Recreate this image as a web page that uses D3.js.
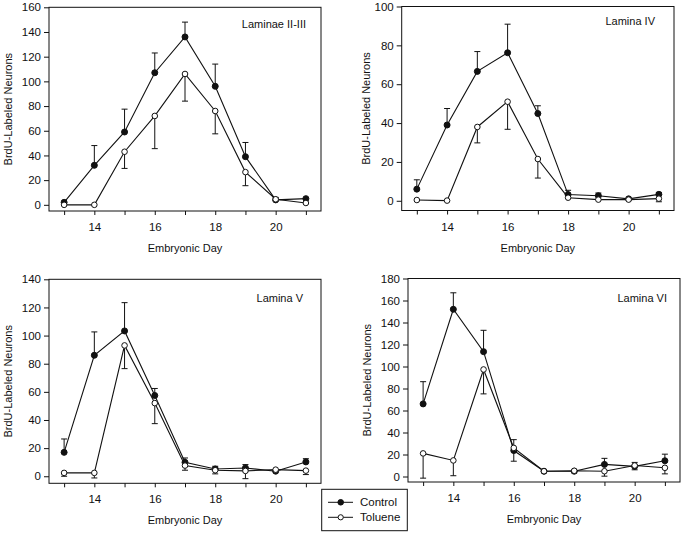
<!DOCTYPE html>
<html><head><meta charset="utf-8">
<script src="https://cdn.jsdelivr.net/npm/d3@7"></script>
<style>
body{margin:0;background:#fff;}
svg{display:block;}
text{font-family:"Liberation Sans",Arial,Helvetica,sans-serif;fill:#111;}
</style></head><body>
<svg id="chart" width="685" height="533"></svg>
<script>
// ---------- data ----------
const days = [13,14,15,16,17,18,19,20,21];
const xLabelDays = [14,16,18,20];
const panelTitles = ["Laminae II-III","Lamina IV","Lamina V","Lamina VI"];
const yMaxes = [160,100,140,180];
const seriesNames = ["Control","Toluene"];
const xTitle = "Embryonic Day";
const yTitle = "BrdU-Labeled Neurons";

// signed error: + drawn upward, - drawn downward
const l23Control    = [2, 32, 59, 107, 136, 96, 39, 4, 5];
const l23ControlErr = [0, 16, 18.5, 16, 12, 18, 11.5, 2, 0];
const l23Toluene    = [0, 0, 43, 72, 106, 76, 26.5, 4.5, 1.5];
const l23TolueneErr = [0, 0, -13.5, -26.5, -22, -18.5, -11, 0, 0];

const l4Control     = [6, 39, 66.6, 76.2, 44.9, 3.2, 2.6, 1, 3.3];
const l4ControlErr  = [4.8, 8.5, 10.2, 14.7, 4, 2.2, 1.4, 0, 1];
const l4Toluene     = [0.4, 0.1, 38, 51, 21.5, 1.6, 0.6, 0.6, 1.1];
const l4TolueneErr  = [0, 0, -8.2, -14.2, -9.8, 0, 0, 0, -1.6];

const l5Control     = [17, 86, 103.3, 57.4, 9.9, 5.2, 5.9, 3.6, 10.2];
const l5ControlErr  = [9.5, 16.6, 20.1, 5, 3.1, 1.9, 2.4, 0, 2.3];
const l5Toluene     = [2.4, 2.4, 93, 52, 7.6, 4.3, 3.8, 4.7, 4];
const l5TolueneErr  = [-2.4, -3.6, -16.5, -14.6, -3.3, -2.6, -5.5, 0, -2.8];

const l6Control     = [66, 152, 113.5, 23.6, 4.8, 4.8, 11, 9.2, 14.3];
const l6ControlErr  = [20.2, 15, 19.4, -9.7, 0, 0, 5.5, -3.1, 6];
const l6Toluene     = [21, 14.6, 97.3, 26, 4.8, 5.2, 4.8, 10, 7.9];
const l6TolueneErr  = [-22.5, -13.9, -22.2, 7.5, 0, -1.8, -4.5, 2.8, -5.5];

const controlSets = [[l23Control,l23ControlErr],[l4Control,l4ControlErr],[l5Control,l5ControlErr],[l6Control,l6ControlErr]];
const tolueneSets = [[l23Toluene,l23TolueneErr],[l4Toluene,l4TolueneErr],[l5Toluene,l5TolueneErr],[l6Toluene,l6TolueneErr]];

// ---------- layout ----------
const layout = [
  {x0:49,   x1:321, y0:7.3,   y1:211,   lx:15, ly:21, yt:41},
  {x0:401.7,x1:674, y0:6.5,   y1:210.5, lx:19, ly:18, yt:36},
  {x0:49,   x1:321, y0:279.3, y1:483.3, lx:18, ly:23, yt:41},
  {x0:408,  x1:680, y0:278.5, y1:482,   lx:13, ly:23, yt:41}
];
const ink = "#111";
const svg = d3.select("#chart");

layout.forEach((L, i) => {
  const x = d3.scaleLinear().domain([12.5, 21.5]).range([L.x0, L.x1]);
  const y = d3.scaleLinear().domain([-5, yMaxes[i]]).range([L.y1, L.y0]);
  const g = svg.append("g");

  g.append("rect").attr("x", L.x0).attr("y", L.y0)
    .attr("width", L.x1 - L.x0).attr("height", L.y1 - L.y0)
    .attr("fill", "none").attr("stroke", ink).attr("stroke-width", 1);

  const ya = g.append("g").attr("transform", `translate(${L.x0},0)`)
    .call(d3.axisLeft(y).tickValues(d3.range(0, yMaxes[i] + 1, 20))
      .tickSize(5).tickPadding(3).tickSizeOuter(0));
  ya.select(".domain").remove();
  ya.selectAll("line").attr("stroke", ink);
  ya.selectAll("text").attr("font-size", 11.5).style("font-family", '"Liberation Sans",Arial,sans-serif').attr("fill", ink);

  const xa = g.append("g").attr("transform", `translate(0,${L.y1})`)
    .call(d3.axisBottom(x).tickValues(days)
      .tickFormat(d => xLabelDays.includes(d) ? d : "")
      .tickSize(4).tickPadding(8).tickSizeOuter(0));
  xa.select(".domain").remove();
  xa.selectAll("line").attr("stroke", ink);
  xa.selectAll("text").attr("font-size", 11.5).style("font-family", '"Liberation Sans",Arial,sans-serif').attr("fill", ink);

  g.append("text").attr("x", (L.x0 + L.x1) / 2).attr("y", L.y1 + 41)
    .attr("text-anchor", "middle").attr("font-size", 11).text(xTitle);
  g.append("text")
    .attr("transform", `translate(${L.x0 - L.yt + 4},${(L.y0 + L.y1) / 2}) rotate(-90)`)
    .attr("text-anchor", "middle").attr("font-size", 11).text(yTitle);
  g.append("text").attr("x", L.x1 - L.lx).attr("y", L.y0 + L.ly)
    .attr("text-anchor", "end").attr("font-size", 11).text(panelTitles[i]);

  const line = d3.line().x((d, k) => x(days[k])).y(d => y(d));
  const sets = [controlSets[i], tolueneSets[i]];

  sets.forEach(([vals]) => {
    g.append("path").datum(vals).attr("d", line)
      .attr("fill", "none").attr("stroke", ink).attr("stroke-width", 1.1);
  });
  sets.forEach(([vals, errs]) => {
    const eg = g.append("g").attr("stroke", ink).attr("stroke-width", 1);
    vals.forEach((v, k) => {
      if (!errs[k]) return;
      const cx = x(days[k]);
      const ye = y(v + errs[k]);
      eg.append("line").attr("x1", cx).attr("x2", cx).attr("y1", y(v)).attr("y2", ye);
      eg.append("line").attr("x1", cx - 3).attr("x2", cx + 3).attr("y1", ye).attr("y2", ye);
    });
  });
  sets.forEach(([vals], s) => {
    g.append("g").selectAll("circle").data(vals).join("circle")
      .attr("cx", (d, k) => x(days[k])).attr("cy", d => y(d))
      .attr("r", s === 0 ? 3 : 2.8)
      .attr("fill", s === 0 ? ink : "#fff")
      .attr("stroke", ink).attr("stroke-width", 1);
  });
});

// legend
const lg = svg.append("g");
lg.append("rect").attr("x", 321.7).attr("y", 489.3).attr("width", 85.6).attr("height", 41.4)
  .attr("fill", "#fff").attr("stroke", ink).attr("stroke-width", 1);
seriesNames.forEach((name, s) => {
  const cy = 502.3 + s * 15;
  lg.append("line").attr("x1", 328).attr("x2", 353).attr("y1", cy).attr("y2", cy)
    .attr("stroke", ink).attr("stroke-width", 1);
  lg.append("circle").attr("cx", 340.7).attr("cy", cy).attr("r", s === 0 ? 2.8 : 2.6)
    .attr("fill", s === 0 ? ink : "#fff").attr("stroke", ink);
  lg.append("text").attr("x", 360).attr("y", cy + 4).attr("font-size", 11.5).text(name);
});
</script>
</body></html>
